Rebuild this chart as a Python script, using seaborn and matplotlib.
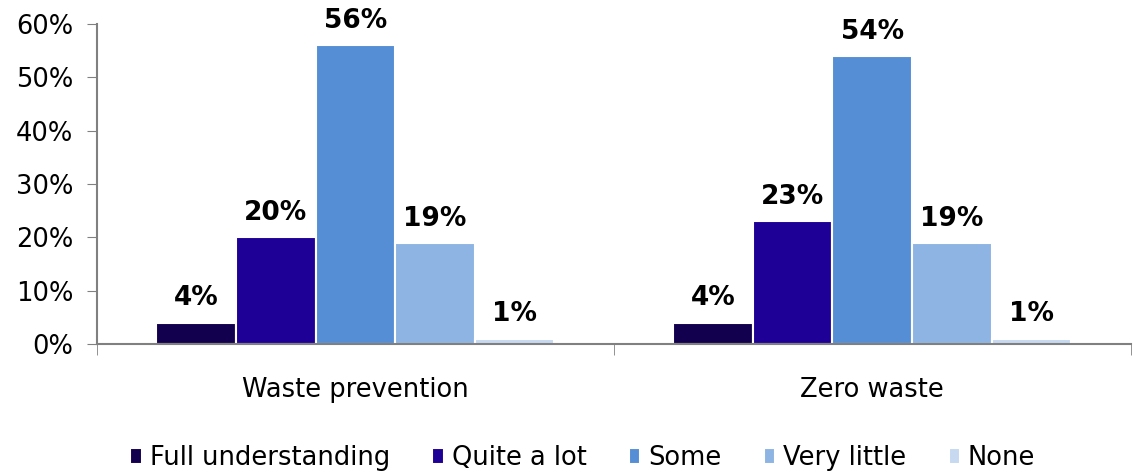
import pandas as pd
import numpy as np
import matplotlib.pyplot as plt
import seaborn as sns

topics = ["Waste prevention", "Zero waste"]
levels = ["Full understanding", "Quite a lot", "Some", "Very little", "None"]
waste_prevention = [4, 20, 56, 19, 1]
zero_waste = [4, 23, 54, 19, 1]
colors = ["#12004F", "#1F0096", "#558ED5", "#8EB4E3", "#C6D9F1"]

rows = []
for topic, vals in zip(topics, [waste_prevention, zero_waste]):
    for lvl, v in zip(levels, vals):
        rows.append({"topic": topic, "level": lvl, "value": v})
df = pd.DataFrame(rows)

sns.set_style("white")
plt.rcParams['font.family'] = ['DejaVu Sans']
plt.rcParams['text.color'] = 'black'
plt.rcParams['xtick.labelcolor'] = 'black'
plt.rcParams['ytick.labelcolor'] = 'black'

fig = plt.figure(figsize=(11.34, 4.73), dpi=100)
ax = fig.add_axes([0.0855, 0.273, 0.9115, 0.676])

sns.barplot(data=df, x="topic", y="value", hue="level", hue_order=levels,
            order=topics, palette=colors, saturation=1, width=0.77,
            edgecolor="white", linewidth=1.5, ax=ax, legend=True)

for cont in ax.containers:
    ax.bar_label(cont, labels=[f"{int(v)}%" for v in cont.datavalues],
                 padding=8, fontsize=19, fontweight="bold", color="black")

ax.set_ylim(0, 60)
ax.set_xlim(-0.5, 1.5)
ax.set_yticks(np.arange(0, 61, 10))
ax.set_yticklabels([f"{t}%" for t in range(0, 61, 10)], fontsize=18.5)
ax.set_xticks([0, 1])
ax.set_xticklabels(topics, fontsize=18.5)
ax.set_xticks([-0.5, 0.5, 1.5], minor=True)
ax.tick_params(axis="x", which="major", length=0, pad=24)
ax.tick_params(axis="x", which="minor", length=8, color="#808080", direction="out", bottom=True)
ax.tick_params(axis="y", length=7, color="#808080", direction="out", left=True, pad=10)
ax.set_xlabel("")
ax.set_ylabel("")

for side in ["top", "right"]:
    ax.spines[side].set_visible(False)
for side in ["left", "bottom"]:
    ax.spines[side].set_color("#808080")
    ax.spines[side].set_linewidth(1.5)

ax.legend(loc="upper center", bbox_to_anchor=(0.47, -0.245), ncol=5, frameon=False,
          fontsize=18.5, handlelength=0.45, handleheight=0.6, handletextpad=0.3,
          columnspacing=1.65)

fig.savefig("out.png", dpi=100)
